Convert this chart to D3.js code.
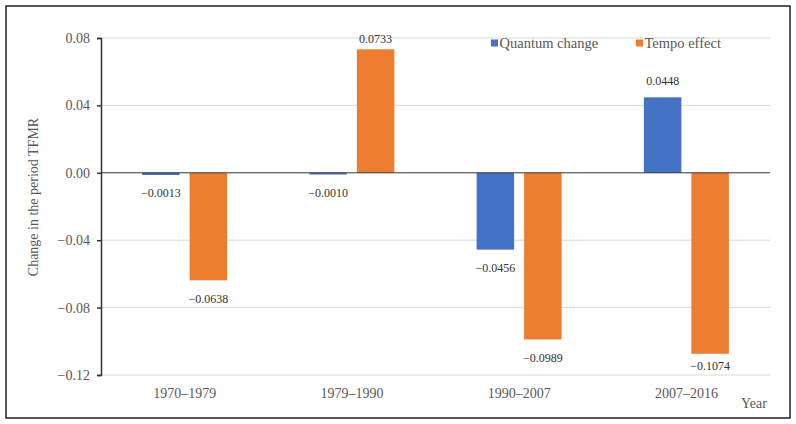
<!DOCTYPE html>
<html>
<head>
<meta charset="utf-8">
<script src="https://cdn.jsdelivr.net/npm/d3@7"></script>
<style>
  body { margin: 0; background: #fff; }
  svg text { font-family: "Liberation Serif", "Times New Roman", serif; }
</style>
</head>
<body>
<svg width="796" height="424"></svg>
<script>
const periods = ["1970\u20131979", "1979\u20131990", "1990\u20132007", "2007\u20132016"];
const seriesNames = ["Quantum change", "Tempo effect"];
const quantum = [-0.0013, -0.0010, -0.0456, 0.0448];
const tempo = [-0.0638, 0.0733, -0.0989, -0.1074];
const yTicks = [-0.12, -0.08, -0.04, 0, 0.04, 0.08];
const colors = ["#4472C4", "#ED7D31"];

const svg = d3.select("svg");
const plotLeft = 101, plotRight = 770, plotTop = 38, plotBottom = 375;

svg.append("rect")
  .attr("x", 6).attr("y", 6).attr("width", 784).attr("height", 412)
  .attr("fill", "none").attr("stroke", "#222").attr("stroke-width", 1.5);

const x0 = d3.scaleBand().domain(periods).range([plotLeft, plotRight]);
const x1 = d3.scaleBand().domain(seriesNames)
  .range([x0.bandwidth() / 2 - 42.5, x0.bandwidth() / 2 + 42.5]).paddingInner(0.21);
const y = d3.scaleLinear().domain([-0.12, 0.08]).range([plotBottom, plotTop]);

// grid
svg.append("g").selectAll("line")
  .data(yTicks.filter(d => d !== 0))
  .enter().append("line")
  .attr("x1", plotLeft).attr("x2", plotRight)
  .attr("y1", d => y(d)).attr("y2", d => y(d))
  .attr("stroke", "#d9d9d9").attr("stroke-width", 1);

const rows = periods.map((p, i) => ({ period: p, values: [quantum[i], tempo[i]] }));

const groups = svg.append("g").selectAll("g")
  .data(rows).enter().append("g")
  .attr("transform", d => `translate(${x0(d.period)},0)`);

groups.selectAll("rect")
  .data(d => d.values.map((v, k) => ({ key: seriesNames[k], value: v, k })))
  .enter().append("rect")
  .attr("x", d => x1(d.key))
  .attr("y", d => Math.min(y(d.value), y(0)))
  .attr("width", x1.bandwidth())
  .attr("height", d => Math.abs(y(d.value) - y(0)))
  .attr("fill", d => colors[d.k]);

groups.selectAll("text")
  .data(d => d.values.map((v, k) => ({ key: seriesNames[k], value: v })))
  .enter().append("text")
  .attr("x", d => x1(d.key) + x1.bandwidth() / 2)
  .attr("y", d => d.value >= 0 ? Math.max(y(d.value) - 17, 39) : Math.min(y(d.value) + 18, 366))
  .attr("dy", "0.35em")
  .attr("text-anchor", "middle")
  .attr("font-size", 12)
  .attr("fill", "#333")
  .text(d => (d.value < 0 ? "\u2212" : "") + Math.abs(d.value).toFixed(4));

// zero line
svg.append("line")
  .attr("x1", plotLeft).attr("x2", plotRight)
  .attr("y1", y(0)).attr("y2", y(0))
  .attr("stroke", "#333").attr("stroke-width", 1);

// y axis
const yAxis = svg.append("g")
  .attr("transform", `translate(${plotLeft},0)`)
  .call(d3.axisLeft(y).tickValues(yTicks).tickSize(4).tickPadding(7)
    .tickFormat(d => (d < 0 ? "\u2212" : "") + Math.abs(d).toFixed(2)));
yAxis.select(".domain").attr("stroke", "#333").attr("stroke-width", 1.5);
yAxis.selectAll(".tick line").attr("stroke", "#333").attr("stroke-width", 1.5);
yAxis.selectAll("text").attr("font-size", 14).attr("fill", "#595959")
  .style("font-family", "'Liberation Serif', serif");

// x labels
svg.append("g").selectAll("text")
  .data(periods).enter().append("text")
  .attr("x", d => x0(d) + x0.bandwidth() / 2)
  .attr("y", 393).attr("dy", "0.35em")
  .attr("text-anchor", "middle")
  .attr("font-size", 14).attr("fill", "#595959")
  .text(d => d);

svg.append("text")
  .attr("x", 754).attr("y", 403).attr("dy", "0.35em")
  .attr("text-anchor", "middle").attr("font-size", 14).attr("fill", "#595959")
  .text("Year");

svg.append("text")
  .attr("transform", "translate(33,197) rotate(-90)")
  .attr("dy", "0.35em")
  .attr("text-anchor", "middle").attr("font-size", 14).attr("fill", "#595959")
  .text("Change in the period TFMR");

// legend
const legendX = [491, 636];
const legend = svg.append("g").selectAll("g")
  .data(seriesNames).enter().append("g")
  .attr("transform", (d, i) => `translate(${legendX[i]},43)`);
legend.append("rect")
  .attr("x", 0).attr("y", -3.5).attr("width", 7).attr("height", 7)
  .attr("fill", (d, i) => colors[i]);
legend.append("text")
  .attr("x", 8.5).attr("dy", "0.35em")
  .attr("font-size", 14.5).attr("fill", "#595959")
  .text(d => d);
</script>
</body>
</html>
